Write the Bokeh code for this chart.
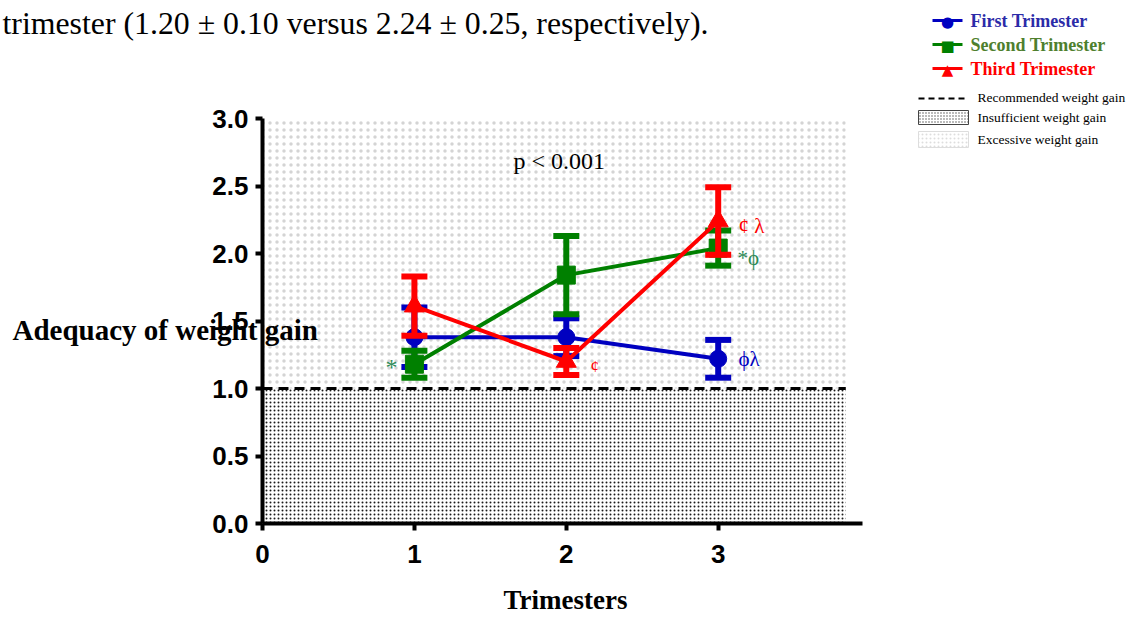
from bokeh.plotting import figure
from bokeh.models import Range1d, FixedTicker, ColumnDataSource
from bokeh.core.properties import value
from bokeh.embed import file_html
from bokeh.resources import INLINE

# ---- data ----
trimesters = [1, 2, 3]
first_mean = [1.38, 1.38, 1.22]
first_err = [0.22, 0.14, 0.14]
second_mean = [1.18, 1.84, 2.04]
second_err = [0.10, 0.29, 0.13]
third_mean = [1.61, 1.20, 2.24]
third_err = [0.22, 0.10, 0.25]
series_names = ["First Trimester", "Second Trimester", "Third Trimester"]
region_names = ["Recommended weight gain", "Insufficient weight gain", "Excessive weight gain"]
recommended = 1.0
y_top = 3.0
shade_right = 3.84
x_ticks = [0, 1, 2, 3]
y_ticks = [0.0, 0.5, 1.0, 1.5, 2.0, 2.5, 3.0]

BLUE = "#0000C0"
GREEN = "#008000"
RED = "#FF0000"
SERIF = "Liberation Serif"
SANS = "Liberation Sans"

W, H = 1134, 617
FL, FR, FT, FB = 262, 862, 118, 523
p = figure(width=W, height=H, output_backend="svg", toolbar_location=None,
           x_range=Range1d(0, 3.95), y_range=Range1d(0, y_top),
           min_border_left=FL, min_border_right=W - FR, min_border_top=FT, min_border_bottom=H - FB)
p.outline_line_color = None
p.xgrid.visible = False
p.ygrid.visible = False

for ax in (p.xaxis[0], p.yaxis[0]):
    ax.axis_line_width = 4
    ax.major_tick_line_width = 4
    ax.major_tick_out = 7
    ax.major_tick_in = 0
    ax.minor_tick_line_color = None
    ax.major_label_text_font = SANS
    ax.major_label_text_font_style = "bold"
    ax.major_label_text_font_size = "26px"
    ax.major_label_text_color = "#000000"
p.xaxis[0].ticker = FixedTicker(ticks=x_ticks)
p.yaxis[0].ticker = FixedTicker(ticks=y_ticks)
p.yaxis[0].major_label_overrides = {t: f"{t:.1f}" for t in y_ticks}
p.xaxis[0].major_label_overrides = {t: str(t) for t in x_ticks}
p.xaxis[0].major_label_standoff = 14
p.yaxis[0].major_label_standoff = 7

# shaded regions
p.quad(left=[0], right=[shade_right], bottom=[0], top=[recommended],
       fill_color="white", line_color=None,
       hatch_pattern="dot", hatch_scale=4, hatch_weight=1.3, hatch_color="#1a1a1a")
p.quad(left=[0], right=[shade_right], bottom=[recommended], top=[y_top],
       fill_color="white", line_color=None,
       hatch_pattern="dot", hatch_scale=7, hatch_weight=1.2, hatch_color="#d4d4d4")
p.line(x=[0, shade_right], y=[recommended, recommended], line_color="black",
       line_width=3, line_dash="10 6")

styles = [(BLUE, "circle", 17), (GREEN, "square", 18), (RED, "triangle", 20)]
for mean, err, (color, marker, msize) in zip([first_mean, second_mean, third_mean],
                                             [first_err, second_err, third_err], styles):
    src = ColumnDataSource(dict(x=trimesters, y=mean,
                                lo=[m - e for m, e in zip(mean, err)],
                                hi=[m + e for m, e in zip(mean, err)]))
    p.segment(x0="x", y0="lo", x1="x", y1="hi", source=src, line_color=color, line_width=6)
    p.scatter(x="x", y="hi", source=src, marker="dash", size=26, line_color=color, line_width=6)
    p.scatter(x="x", y="lo", source=src, marker="dash", size=26, line_color=color, line_width=6)
    p.line(x="x", y="y", source=src, line_color=color, line_width=4)
    p.scatter(x="x", y="y", source=src, marker=marker, size=msize,
              fill_color=color, line_color=color)

sx = (FR - FL) / 3.95
sy = (FB - FT) / y_top

def dx(px):
    return (px - FL) / sx

def dy(py):
    return (FB - py) / sy

def lab(text, px, py, size, color="black", font=SERIF, style="normal", align="left"):
    p.text(x=[dx(px)], y=[dy(py)], text=[text], text_font=value(font), text_font_size=value(size),
           text_font_style=style, text_color=color, text_align=align,
           text_baseline="middle", level="overlay")

lab("trimester (1.20 \u00b1 0.10 versus 2.24 \u00b1 0.25, respectively).", 2, 23, "31.8px")
lab("p < 0.001", 513, 160, "24px")
lab("Adequacy of weight gain", 12, 329, "29px", style="bold")
lab("Trimesters", 565, 599, "27px", style="bold", align="center")
lab("*", 385, 366, "24px", color="#2e8b57")
lab("\u00a2", 590, 366, "17px", color=RED)
lab("\u00a2 \u03bb", 738, 225, "21px", color=RED)
lab("*\u03d5", 737, 257, "21px", color="#2e8b57")
lab("\u03d5\u03bb", 738, 358, "21px", color=BLUE)

# manual legend (overlay level so it is drawn outside the frame)
leg_text_colors = ["#2B2BA8", "#4E7F2E", RED]
leg_symbols = ["\u25cf", "\u25a0", "\u25b2"]
for i, (name, (color, marker, msize)) in enumerate(zip(series_names, styles)):
    cy = 20 + 24 * i
    p.line(x=[dx(932), dx(962)], y=[dy(cy), dy(cy)], line_color=color, line_width=3, level="overlay")
    lab(leg_symbols[i], 947, cy + 1, "15px", color=color, font="DejaVu Sans", align="center")
    lab(name, 970, cy, "18px", color=leg_text_colors[i], style="bold")

p.line(x=[dx(918), dx(968)], y=[dy(98), dy(98)], line_color="black", line_width=2,
       line_dash="6 4", level="overlay")
lab(region_names[0], 977, 97, "13.5px")
p.quad(left=[dx(918)], right=[dx(968)], top=[dy(110)], bottom=[dy(124)], fill_color="white",
       line_color="#444444", hatch_pattern="dot", hatch_scale=3, hatch_weight=1,
       hatch_color="#555555", level="overlay")
lab(region_names[1], 977, 117, "13.5px")
p.quad(left=[dx(918)], right=[dx(968)], top=[dy(131)], bottom=[dy(147)], fill_color="white",
       line_color="#dddddd", hatch_pattern="dot", hatch_scale=4, hatch_weight=1,
       hatch_color="#dddddd", level="overlay")
lab(region_names[2], 977, 139, "13.5px")

open("out.html", "w").write(file_html(p, INLINE))
